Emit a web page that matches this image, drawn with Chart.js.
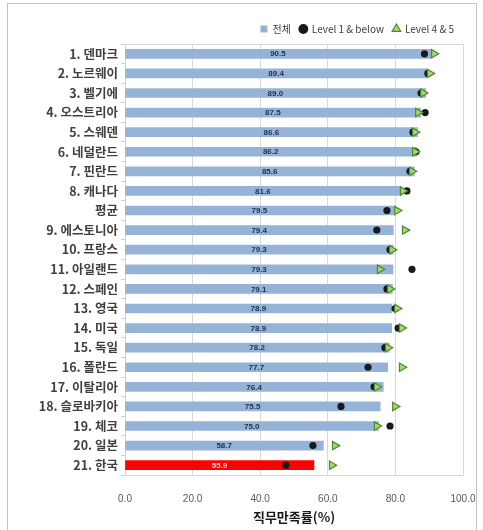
<!DOCTYPE html>
<html>
<head>
<meta charset="utf-8">
<script src="https://cdn.jsdelivr.net/npm/chart.js@4/dist/chart.umd.min.js"></script>
<style>
  html, body { margin: 0; padding: 0; background: #ffffff; }
  #frame { position: absolute; left: 7px; top: 3px; width: 470px; height: 540px; border: 1px solid #c4c4c4; box-sizing: border-box; }
  #wrap { position: absolute; left: 0; top: 0; width: 483px; height: 530px; }
</style>
</head>
<body>
<div id="frame"></div>
<div id="wrap"><canvas id="c" width="483" height="530"></canvas></div>
<script>
const categories = ['1. 덴마크','2. 노르웨이','3. 벨기에','4. 오스트리아','5. 스웨덴','6. 네덜란드','7. 핀란드','8. 캐나다','평균','9. 에스토니아','10. 프랑스','11. 아일랜드','12. 스페인','13. 영국','14. 미국','15. 독일','16. 폴란드','17. 이탈리아','18. 슬로바키아','19. 체코','20. 일본','21. 한국'];
const totalValues = [90.5,89.4,89.0,87.5,86.6,86.2,85.6,81.6,79.5,79.4,79.3,79.3,79.1,78.9,78.9,78.2,77.7,76.4,75.5,75.0,58.7,55.9];
const level1Values = [88.6,89.6,87.6,88.8,85.2,86.1,84.3,83.4,77.5,74.5,78.4,84.9,77.5,79.9,80.8,76.9,71.9,73.7,63.9,78.4,55.6,47.6];
const level45Values = [91.4,90.2,88.2,86.7,85.8,85.8,84.9,82.2,80.5,82.8,79.0,75.4,78.4,80.5,81.9,77.8,81.9,74.5,79.9,74.5,62.1,61.2];
const seriesNames = ['전체','Level 1 & below','Level 4 & 5'];
const xTicks = [0,20,40,60,80,100];
const axisTitle = '직무만족률(%)';

const highlightLabel = '21. 한국';
const barColors = categories.map(c => c === highlightLabel ? '#ff0000' : '#95b3d7');

const valueLabelPlugin = {
  id: 'valueLabels',
  afterDatasetDraw(chart, args) {
    if (args.index !== 2) return;
    const ctx = chart.ctx;
    const meta = chart.getDatasetMeta(2);
    const xScale = chart.scales.x;
    ctx.save();
    ctx.font = 'bold 8px "Liberation Sans", Arial, sans-serif';
    ctx.textAlign = 'center';
    ctx.textBaseline = 'middle';
    meta.data.forEach((bar, i) => {
      const v = totalValues[i];
      const cx = (xScale.getPixelForValue(0) + bar.x) / 2;
      ctx.fillStyle = categories[i] === highlightLabel ? '#ffd6d6' : '#1f2f4f';
      ctx.fillText(v.toFixed(1), cx, bar.y + 0.5);
    });
    ctx.restore();
  }
};

const borderPlugin = {
  id: 'plotBorder',
  beforeDatasetsDraw(chart) {
    const a = chart.chartArea;
    const ctx = chart.ctx;
    ctx.save();
    ctx.strokeStyle = '#d9d9d9';
    ctx.lineWidth = 1;
    ctx.beginPath();
    ctx.moveTo(a.left, a.top + 0.5);
    ctx.lineTo(a.right + 0.5, a.top + 0.5);
    ctx.lineTo(a.right + 0.5, a.bottom + 0.5);
    ctx.lineTo(a.left, a.bottom + 0.5);
    ctx.stroke();
    ctx.restore();
  }
};

new Chart(document.getElementById('c'), {
  type: 'bar',
  data: {
    labels: categories,
    datasets: [
      {
        type: 'line',
        label: seriesNames[2],
        data: level45Values,
        indexAxis: 'y',
        showLine: false,
        pointStyle: 'triangle',
        rotation: 90,
        pointRotation: 90,
        pointRadius: 4.8,
        pointBackgroundColor: '#a6d86e',
        pointBorderColor: '#4f8a2b',
        pointBorderWidth: 1.2,
        backgroundColor: '#a6d86e',
        borderColor: '#4f8a2b',
        order: 1
      },
      {
        type: 'line',
        label: seriesNames[1],
        data: level1Values,
        indexAxis: 'y',
        showLine: false,
        pointStyle: 'circle',
        pointRadius: 3.6,
        pointBorderWidth: 0,
        pointBackgroundColor: '#1a1a1a',
        pointBorderColor: '#1a1a1a',
        backgroundColor: '#1a1a1a',
        borderColor: '#1a1a1a',
        order: 2
      },
      {
        type: 'bar',
        label: seriesNames[0],
        data: totalValues,
        backgroundColor: barColors,
        borderWidth: 0,
        barThickness: 9,
        order: 3
      }
    ]
  },
  options: {
    indexAxis: 'y',
    responsive: false,
    animation: false,
    devicePixelRatio: 1,
    layout: { padding: { left: 8, right: 20, top: 15, bottom: 4 } },
    font: { family: '"Noto Sans CJK KR", sans-serif' },
    plugins: {
      tooltip: { enabled: false },
      legend: {
        position: 'top',
        align: 'end',
        reverse: true,
        labels: {
          usePointStyle: true,
          boxWidth: 7,
          boxHeight: 7,
          padding: 9,
          color: '#404040',
          font: { size: 10, family: '"Noto Sans CJK KR", sans-serif' },
          generateLabels(chart) {
            const items = Chart.defaults.plugins.legend.labels.generateLabels(chart);
            items.forEach(it => {
              if (it.datasetIndex === 2) { it.pointStyle = 'rect'; it.fillStyle = '#95b3d7'; it.strokeStyle = '#95b3d7'; it.lineWidth = 0; }
              if (it.datasetIndex === 0) { it.rotation = 0; it.fillStyle = '#a6d86e'; it.strokeStyle = '#4f8a2b'; it.lineWidth = 1.2; }
              if (it.datasetIndex === 1) { it.fillStyle = '#1a1a1a'; it.strokeStyle = '#1a1a1a'; it.lineWidth = 0; }
            });
            return items;
          }
        }
      }
    },
    scales: {
      x: {
        min: 0,
        max: 100,
        afterBuildTicks(scale) { scale.ticks = xTicks.map(v => ({ value: v })); },
        ticks: {
          padding: 2,
          color: '#595959',
          font: { size: 10, family: '"Liberation Sans", Arial, sans-serif' },
          callback: (v) => Number(v).toFixed(1)
        },
        grid: { color: '#d9d9d9', drawTicks: true, tickLength: 16, tickColor: 'rgba(0,0,0,0)' },
        border: { display: false },
        title: {
          display: true,
          text: axisTitle,
          color: '#1a1a1a',
          font: { size: 13, weight: 'bold', family: '"Noto Sans CJK KR", sans-serif' },
          padding: { top: 6, bottom: 1 }
        },
        afterFit(scale) { scale.height = 51; }
      },
      y: {
        ticks: {
          color: '#404040',
          padding: 3,
          font: { size: 12.5, weight: 'bold', family: '"Noto Sans CJK KR", sans-serif' }
        },
        grid: { offset: true, drawOnChartArea: false, tickLength: 4, color: '#d0d0d0' },
        border: { display: true, color: '#d0d0d0' },
        afterFit(scale) { scale.width = 117; }
      }
    }
  },
  plugins: [valueLabelPlugin, borderPlugin]
});
</script>
</body>
</html>
